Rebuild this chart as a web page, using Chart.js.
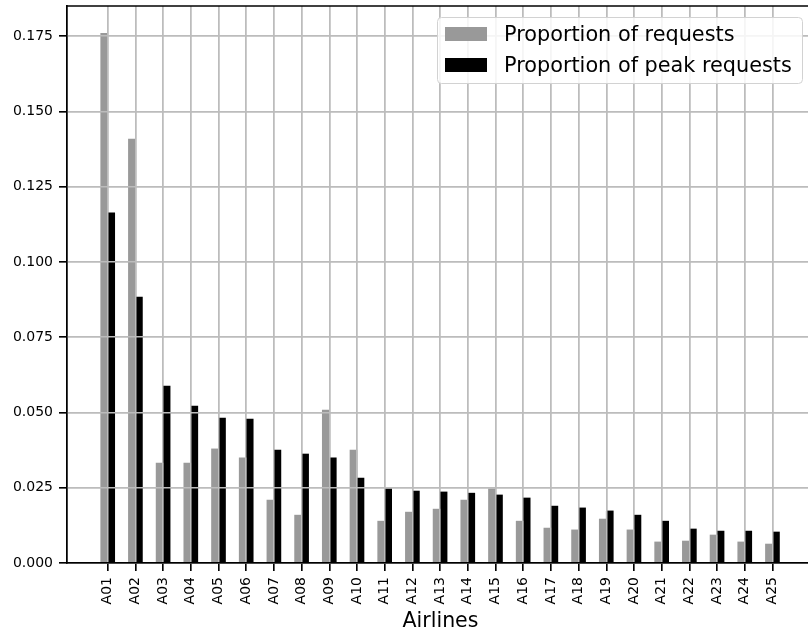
<!DOCTYPE html>
<html>
<head>
<meta charset="utf-8">
<script src="https://cdn.jsdelivr.net/npm/chart.js@4.4.1/dist/chart.umd.min.js"></script>
<style>
  html, body { margin: 0; padding: 0; background: #fff; overflow: hidden; }
  #wrap { width: 816px; height: 632px; }
</style>
</head>
<body>
<div id="wrap"><canvas id="chart" width="816" height="632"></canvas></div>
<script>
// values
const airlines = ['A01', 'A02', 'A03', 'A04', 'A05', 'A06', 'A07', 'A08', 'A09', 'A10',
  'A11', 'A12', 'A13', 'A14', 'A15', 'A16', 'A17', 'A18', 'A19', 'A20',
  'A21', 'A22', 'A23', 'A24', 'A25'];
const requestShare = [0.1759, 0.1408, 0.0332, 0.0332, 0.0379, 0.0349, 0.0209, 0.0159, 0.0508, 0.0375,
  0.0139, 0.0169, 0.0179, 0.0209, 0.0246, 0.0139, 0.0116, 0.0110, 0.0146, 0.0110,
  0.0070, 0.0073, 0.0093, 0.0070, 0.0063];
const peakShare = [0.1163, 0.0883, 0.0588, 0.0521, 0.0481, 0.0478, 0.0375, 0.0362, 0.0349, 0.0282,
  0.0246, 0.0239, 0.0236, 0.0232, 0.0226, 0.0216, 0.0189, 0.0183, 0.0173, 0.0159,
  0.0139, 0.0113, 0.0106, 0.0106, 0.0103];
const seriesNames = ['Proportion of requests', 'Proportion of peak requests'];
const yTickValues = [0, 0.025, 0.05, 0.075, 0.1, 0.125, 0.15, 0.175];

const FONT = '"DejaVu Sans", Verdana, sans-serif';
const GRID = '#bcbcbc';

const toPoints = (vals) => vals.map((v, i) => ({ x: i, y: v }));

// grid over the bars, top spine, and a matplotlib-like legend box
const overlay = {
  id: 'overlay',
  afterDatasetsDraw(chart) {
    const { x, y } = chart.scales;
    x.drawGrid(chart.chartArea);
    y.drawGrid(chart.chartArea);
    if (typeof x.drawBorder === 'function') { x.drawBorder(); y.drawBorder(); }
    const ctx = chart.ctx;
    const a = chart.chartArea;
    ctx.save();
    ctx.strokeStyle = '#000';
    ctx.lineWidth = 1.5;
    ctx.beginPath();
    ctx.moveTo(a.left - 0.75, a.top);
    ctx.lineTo(a.right, a.top);
    ctx.stroke();
    ctx.restore();
  },
  afterDraw(chart) {
    const ctx = chart.ctx;
    const bx = 437, by = 17, bw = 365, bh = 66;
    ctx.save();
    ctx.beginPath();
    ctx.roundRect(bx + 0.5, by + 0.5, bw, bh, 4);
    ctx.fillStyle = 'rgba(255,255,255,0.85)';
    ctx.fill();
    ctx.strokeStyle = '#d2d2d2';
    ctx.lineWidth = 1;
    ctx.stroke();
    ctx.font = '20.8px ' + FONT;
    ctx.textBaseline = 'alphabetic';
    ctx.textAlign = 'left';
    const rows = [27, 58];
    chart.data.datasets.forEach((ds, i) => {
      ctx.fillStyle = ds.backgroundColor;
      ctx.fillRect(445, rows[i], 42, 14);
      ctx.fillStyle = '#000';
      ctx.fillText(ds.label, 504, rows[i] + 14);
    });
    ctx.restore();
  }
};

new Chart(document.getElementById('chart'), {
  type: 'bar',
  data: {
    datasets: [
      { label: seriesNames[0], data: toPoints(requestShare), backgroundColor: '#999999' },
      { label: seriesNames[1], data: toPoints(peakShare), backgroundColor: '#000000' }
    ]
  },
  options: {
    responsive: false,
    animation: false,
    devicePixelRatio: 1,
    layout: { padding: { top: 6, right: 2, left: 0, bottom: 0 } },
    datasets: { bar: { barThickness: 7, grouped: true, borderWidth: 0 } },
    plugins: { legend: { display: false }, tooltip: { enabled: false } },
    scales: {
      x: {
        type: 'linear',
        offset: false,
        min: -1.47,
        max: 25.5,
        afterBuildTicks: (s) => { s.ticks = airlines.map((_, i) => ({ value: i })); },
        afterFit: (s) => { s.height = 69; s.paddingLeft = 0; s.paddingRight = 0; },
        ticks: {
          autoSkip: false,
          minRotation: 90,
          maxRotation: 90,
          padding: 6,
          color: '#000',
          font: { family: FONT, size: 14 },
          callback: (v) => airlines[v] || ''
        },
        grid: { offset: false, color: GRID, lineWidth: 1.5, tickColor: '#000', tickLength: 8, tickWidth: 1.3 },
        border: { color: '#000', width: 1.5 },
        title: {
          display: true,
          text: 'Airlines',
          color: '#000',
          font: { family: FONT, size: 20.5, lineHeight: 1.0 },
          padding: 0
        }
      },
      y: {
        min: 0,
        max: 0.185,
        afterBuildTicks: (s) => { s.ticks = yTickValues.map((v) => ({ value: v })); },
        afterFit: (s) => { s.width = 67; s.paddingTop = 0; s.paddingBottom = 0; },
        ticks: {
          includeBounds: false,
          padding: 6,
          color: '#000',
          font: { family: FONT, size: 14 },
          callback: (v) => Number(v).toFixed(3)
        },
        grid: { color: GRID, lineWidth: 1.5, tickColor: '#000', tickLength: 8, tickWidth: 1.3 },
        border: { color: '#000', width: 1.5 }
      }
    }
  },
  plugins: [overlay]
});
</script>
</body>
</html>
